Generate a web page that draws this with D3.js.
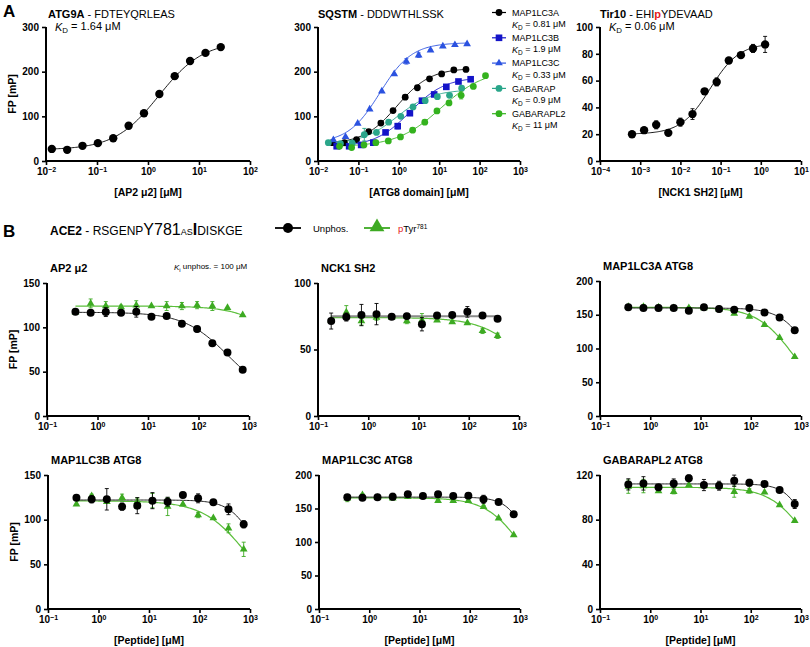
<!DOCTYPE html>
<html><head><meta charset="utf-8">
<script src="https://cdn.jsdelivr.net/npm/d3@7"></script>
<style>
body{margin:0;background:#fff}
svg text{font-family:"Liberation Sans",Arial,Helvetica,sans-serif}
</style>
</head><body>
<svg id="c" width="810" height="647"></svg>
<script>
// ---------------- DATA ----------------
// Panel A1: ATG9A peptide vs AP2 mu2
const a1Conc = [0.013, 0.026, 0.052, 0.104, 0.208, 0.417, 0.834, 1.67, 3.34, 6.68, 13.4, 26.7];
const a1FP   = [27, 25, 34, 40, 51, 79, 107, 150, 190, 224, 242, 255];
const a1Err  = [1, 1, 1, 1, 1, 6, 3, 2, 2, 2, 2, 2];
const a1Fit  = [25, 268, 1.64, 1];           // bottom, top, KD, hill

// Panel A2: SQSTM peptide vs ATG8 domains
const a2Names = ["MAP1LC3A", "MAP1LC3B", "MAP1LC3C", "GABARAP", "GABARAPL2"];
const a2KD    = ["0.81", "1.9", "0.33", "0.9", "11"];
const lc3aConc = [0.0225, 0.045, 0.09, 0.18, 0.36, 0.72, 1.44, 2.88, 5.75, 11.5, 23, 46];
const lc3aFP   = [41, 41, 48, 66, 85, 113, 143, 164, 184, 195, 204, 205];
const lc3aErr  = [1, 1, 1, 1, 1, 2, 2, 2, 2, 2, 2, 2];
const lc3aFit  = [38, 208, 0.9, 1.05];
const lc3bConc = [0.029, 0.059, 0.117, 0.234, 0.47, 0.94, 1.88, 3.75, 7.5, 15, 30, 60];
const lc3bFP   = [33, 33, 36, 41, 64, 78, 107, 135, 149, 166, 178, 183];
const lc3bErr  = [1, 1, 1, 1, 1, 6, 2, 2, 2, 2, 2, 2];
const lc3bFit  = [32, 188, 1.9, 1];
const lc3cConc = [0.024, 0.048, 0.096, 0.19, 0.38, 0.77, 1.54, 3.1, 6.1, 12.3, 24.5, 49];
const lc3cFP   = [47, 54, 84, 116, 156, 195, 223, 237, 248, 257, 260, 262];
const lc3cErr  = [1, 1, 1, 1, 1, 1, 6, 5, 2, 1, 1, 1];
const lc3cFit  = [40, 265, 0.34, 1.1];
const gabConc  = [0.018, 0.036, 0.07, 0.14, 0.28, 0.56, 1.12, 2.25, 4.5, 9, 18, 36];
const gabFP    = [41, 39, 40, 59, 64, 87, 100, 121, 135, 144, 147, 163];
const gabErr   = [1, 1, 1, 14, 1, 2, 2, 2, 2, 2, 2, 2];
const gabFit   = [38, 160, 0.9, 1];
const gabl2Conc = [0.034, 0.068, 0.137, 0.27, 0.55, 1.1, 2.2, 4.4, 8.8, 17.5, 35, 70, 140];
const gabl2FP   = [33, 30, 36, 41, 45, 54, 69, 87, 112, 130, 147, 167, 191];
const gabl2Err  = [1, 1, 1, 1, 1, 1, 1, 1, 2, 2, 8, 2, 1];
const gabl2Fit  = [32, 205, 11, 0.8];

// Panel A3: Tir10 peptide vs NCK1 SH2
const a3Conc = [0.000625, 0.00125, 0.0025, 0.005, 0.01, 0.02, 0.04, 0.08, 0.16, 0.32, 0.64, 1.28];
const a3FP   = [20, 23, 27, 21, 29, 35, 52, 59, 75, 79, 84, 87];
const a3Err  = [1, 1, 3, 2, 3, 4, 1, 3, 2, 1, 3, 6];
const a3Fit  = [20, 88, 0.055, 1.2];

// Panel B: ACE2 peptide competition (Unphos. vs pTyr781)
const bConc    = [0.366, 0.732, 1.46, 2.93, 5.86, 11.7, 23.4, 46.9, 93.8, 188, 375, 750];
const bConcNck = [0.183, 0.366, 0.732, 1.46, 2.93, 5.86, 11.7, 23.4, 46.9, 93.8, 188, 375];
const bTitles  = ["AP2 \u03bc2", "NCK1 SH2", "MAP1LC3A ATG8", "MAP1LC3B ATG8", "MAP1LC3C ATG8", "GABARAPL2 ATG8"];

const ap2Un   = [117.5, 116.4, 117.2, 116.4, 117.5, 112, 112.7, 104, 98, 82, 71.6, 52.2];
const ap2UnE  = [2, 2, 5, 2, 6, 2, 2, 3, 3, 2, 3, 1];
const ap2P    = [117, 127, 124, 123, 125, 124, 124, 124, 125, 124, 122, 114];
const ap2PE   = [1, 5, 5, 2, 5, 1, 5, 4, 4, 5, 1, 1];
const ap2UnFit = [20, 117, 380, 1];
const ap2PFit  = [20, 124, 6800, 1];

const nckUn   = [71.4, 74.4, 75.9, 76.6, 74.6, 75.1, 69, 75.6, 75.9, 78.3, 75.6, 73.2];
const nckUnE  = [6, 3, 8, 8, 1, 2, 5, 1, 1, 4, 1, 1];
const nckP    = [72, 78, 71.4, 74, 74, 71.4, 72, 72, 70.7, 70, 64, 60.3];
const nckPE   = [1, 5, 3, 2, 1, 2, 5, 1, 1, 1, 2, 2];
const nckUnFit = [75, 75, 1e6, 1];
const nckPFit  = [20, 74, 1190, 1];

const lc3aUn  = [161, 160, 160, 160, 156, 161, 158.4, 157.4, 160, 153.5, 146, 127];
const lc3aUnE = [2, 2, 4, 2, 2, 1, 4, 2, 2, 1, 4, 2];
const lc3aP   = [162, 162, 161, 160, 160, 160, 158, 152, 147.5, 135, 116, 87.6];
const lc3aPE  = [3, 3, 2, 2, 2, 1, 1, 1, 2, 2, 1, 1];
const lc3aUnFit = [20, 160, 1640, 1.5];
const lc3aPFit  = [20, 161, 703, 1.2];

const lc3bUn  = [124.6, 122.8, 122.8, 114.6, 115.7, 121.3, 120.1, 127.6, 123.9, 119.4, 111.6, 94.8];
const lc3bUnE = [1, 4, 12, 4, 9, 9, 5, 3, 5, 1, 6, 4];
const lc3bP   = [117.2, 126.5, 120.1, 124.6, 120.1, 121.3, 114.6, 117.2, 105.2, 101.9, 90.3, 66.8];
const lc3bPE  = [1, 2, 2, 4, 4, 8, 10, 1, 3, 1, 5, 8];
const lc3bUnFit = [20, 122, 1358, 1.7];
const lc3bPFit  = [0, 121, 900, 1];

const lc3cUn  = [166.7, 166.2, 166.7, 167.7, 171.1, 168.7, 171.1, 168.7, 169.2, 163.7, 159.7, 141.3];
const lc3cUnE = [3, 2, 1, 5, 2, 2, 4, 2, 4, 6, 1, 1];
const lc3cP   = [165.2, 170.1, 166.2, 165.2, 167.7, 167.7, 161.7, 161.7, 161.7, 152.7, 135.3, 110.4];
const lc3cPE  = [5, 2, 1, 2, 1, 1, 2, 2, 1, 2, 1, 1];
const lc3cUnFit = [20, 167, 1630, 2];
const lc3cPFit  = [20, 166, 1124, 1.2];

const gl2Un   = [111.6, 112.5, 109, 112.5, 117, 111, 110.4, 114.9, 113.1, 111.9, 106.6, 94];
const gl2UnE  = [5, 6, 1, 4, 3, 5, 4, 5, 3, 1, 1, 4];
const gl2P    = [109.6, 110.1, 105.7, 105.1, 111, 110.4, 110.1, 105.1, 105.7, 104.5, 93.1, 79.1];
const gl2PE   = [6, 6, 1, 2, 1, 1, 1, 5, 2, 1, 1, 1];
const gl2UnFit = [20, 112, 1520, 2];
const gl2PFit  = [20, 109, 1320, 1.2];

// ---------------- DRAWING ----------------
const svg = d3.select("#c");
const GREEN = "#3daa22", RED = "#e5201c";
const rise = f => x => f[0] + (f[1] - f[0]) / (1 + Math.pow(f[2] / x, f[3]));
const fall = f => x => f[0] + (f[1] - f[0]) / (1 + Math.pow(x / f[2], f[3]));

function sup10(sel) {
  sel.each(function(d) {
    const e = Math.round(Math.log10(d));
    const t = d3.select(this);
    t.text(null);
    t.append("tspan").text("10");
    t.append("tspan").attr("dy", "-0.45em").attr("font-size", "7px").text(e < 0 ? "\u2212" + (-e) : String(e));
  });
}

function drawPanel(p) {
  const x = d3.scaleLog().domain(p.xdom).range([p.left, p.right]);
  const y = d3.scaleLinear().domain([0, p.ymax]).range([p.bottom, p.top]);
  const g = svg.append("g");
  const e0 = Math.round(Math.log10(p.xdom[0])), e1 = Math.round(Math.log10(p.xdom[1]));
  const decs = d3.range(e0, e1 + 1).map(e => Math.pow(10, e));
  const gx = g.append("g").attr("transform", `translate(0,${p.bottom})`)
    .call(d3.axisBottom(x).tickValues(decs).tickSizeInner(4).tickSizeOuter(0).tickPadding(3));
  gx.selectAll(".tick text").call(sup10);
  const gy = g.append("g").attr("transform", `translate(${p.left},0)`)
    .call(d3.axisLeft(y).tickValues(p.yticks).tickSizeInner(4).tickSizeOuter(0).tickPadding(3).tickFormat(d3.format("d")));
  [gx, gy].forEach(a => {
    a.attr("font-family", null).attr("font-size", null);
    a.select(".domain").attr("stroke", "#000").attr("stroke-width", 2);
    a.selectAll(".tick line").attr("stroke", "#000").attr("stroke-width", 1.6);
    a.selectAll(".tick text").attr("fill", "#000").attr("font-size", "10px").attr("font-weight", "bold");
  });
  gx.select(".domain").attr("d", `M${p.left - 1},0H${p.right}`);
  gy.select(".domain").attr("d", `M0,${p.bottom + 1}V${p.top}`);
  if (p.xlabel) g.append("text").attr("x", (p.left + p.right) / 2).attr("y", p.bottom + 35)
    .attr("text-anchor", "middle").attr("font-size", "10.5px").attr("font-weight", "bold").text(p.xlabel);
  if (p.ylabel) g.append("text").attr("transform", `translate(${p.left - 30},${(p.top + p.bottom) / 2}) rotate(-90)`)
    .attr("text-anchor", "middle").attr("font-size", "10.5px").attr("font-weight", "bold").text(p.ylabel);

  p.series.forEach(s => {
    const c0 = s.conc[0], c1 = s.conc[s.conc.length - 1];
    const f = s.dir === "rise" ? rise(s.fit) : fall(s.fit);
    const xs = d3.range(0, 121).map(i => c0 * Math.pow(c1 / c0, i / 120));
    g.append("path").datum(xs).attr("fill", "none").attr("stroke", s.line || s.color)
      .attr("stroke-width", s.lw || 1).attr("d", d3.line().x(d => x(d)).y(d => y(f(d))));
  });
  p.series.forEach(s => {
    const pts = s.conc.map((c, i) => ({c, v: s.fp[i], e: s.err ? s.err[i] : 0}));
    const eb = g.append("g").attr("stroke", s.color).attr("stroke-width", 0.9);
    pts.filter(d => d.e > 1.5).forEach(d => {
      const xx = x(d.c);
      eb.append("line").attr("x1", xx).attr("x2", xx).attr("y1", y(d.v - d.e)).attr("y2", y(d.v + d.e));
      eb.append("line").attr("x1", xx - 2).attr("x2", xx + 2).attr("y1", y(d.v - d.e)).attr("y2", y(d.v - d.e));
      eb.append("line").attr("x1", xx - 2).attr("x2", xx + 2).attr("y1", y(d.v + d.e)).attr("y2", y(d.v + d.e));
    });
    g.append("g").selectAll("path").data(pts).join("path")
      .attr("transform", d => `translate(${x(d.c)},${y(d.v)})`)
      .attr("d", d3.symbol().type(s.shape).size(s.size)).attr("fill", s.color);
  });
  return {x, y};
}

function title(x, y, bold, rest, size) {
  const t = svg.append("text").attr("x", x).attr("y", y).attr("font-size", (size || 11) + "px");
  t.append("tspan").attr("font-weight", "bold").text(bold);
  if (rest) t.append("tspan").text(rest);
  return t;
}
function kd(x, y, val, size, sub) {
  const t = svg.append("text").attr("x", x).attr("y", y).attr("font-size", (size || 11) + "px");
  t.append("tspan").attr("font-style", "italic").text("K");
  t.append("tspan").attr("dy", "0.3em").attr("font-size", "0.72em").text(sub || "D");
  t.append("tspan").attr("dy", "-0.3em").text(val);
  return t;
}

// Panel letters
svg.append("text").attr("x", 3).attr("y", 17).attr("font-size", "17px").attr("font-weight", "bold").text("A");
svg.append("text").attr("x", 3).attr("y", 237).attr("font-size", "17px").attr("font-weight", "bold").text("B");

// ---- A1
drawPanel({left: 46, right: 250, top: 27, bottom: 161, xdom: [1e-2, 1e2], ymax: 300, yticks: [0, 100, 200, 300],
  xlabel: "[AP2 \u03bc2] [\u03bcM]", ylabel: "FP [mP]",
  series: [{conc: a1Conc, fp: a1FP, err: a1Err, fit: a1Fit, dir: "rise", color: "#000", shape: d3.symbolCircle, size: 55, lw: 0.9}]});
title(48, 18, "ATG9A", " - FDTEYQRLEAS");
kd(55, 31, " = 1.64 \u03bcM");

// ---- A2
const a2Series = [
  {conc: lc3aConc, fp: lc3aFP, err: lc3aErr, fit: lc3aFit, color: "#000", shape: d3.symbolCircle, size: 36},
  {conc: lc3bConc, fp: lc3bFP, err: lc3bErr, fit: lc3bFit, color: "#1414c8", shape: d3.symbolSquare, size: 44},
  {conc: lc3cConc, fp: lc3cFP, err: lc3cErr, fit: lc3cFit, color: "#2b52e0", shape: d3.symbolTriangle, size: 26},
  {conc: gabConc, fp: gabFP, err: gabErr, fit: gabFit, color: "#2aa68a", shape: d3.symbolCircle, size: 36},
  {conc: gabl2Conc, fp: gabl2FP, err: gabl2Err, fit: gabl2Fit, color: "#34b21e", shape: d3.symbolCircle, size: 36}
].map(s => Object.assign(s, {dir: "rise", lw: 0.9}));
drawPanel({left: 318, right: 520, top: 27, bottom: 161, xdom: [1e-2, 1e3], ymax: 300, yticks: [0, 100, 200, 300],
  xlabel: "[ATG8 domain] [\u03bcM]", series: a2Series});
title(318, 18, "SQSTM", " - DDDWTHLSSK");
a2Series.forEach((s, i) => {
  const yy = 12.5 + i * 25.3;
  svg.append("line").attr("x1", 492).attr("x2", 506).attr("y1", yy).attr("y2", yy).attr("stroke", s.color).attr("stroke-width", 1.2);
  svg.append("path").attr("transform", `translate(499,${yy})`).attr("d", d3.symbol().type(s.shape).size(s.size)).attr("fill", s.color);
  svg.append("text").attr("x", 512).attr("y", yy + 3.3).attr("font-size", "9px").text(a2Names[i]);
  kd(512, yy + 15.3, " = " + a2KD[i] + " \u03bcM", 9);
});

// ---- A3
drawPanel({left: 600, right: 801, top: 27, bottom: 161, xdom: [1e-4, 1e1], ymax: 100, yticks: [0, 20, 40, 60, 80, 100],
  xlabel: "[NCK1 SH2] [\u03bcM]",
  series: [{conc: a3Conc, fp: a3FP, err: a3Err, fit: a3Fit, dir: "rise", color: "#000", shape: d3.symbolCircle, size: 55, lw: 0.9}]});
{
  const t = svg.append("text").attr("x", 600).attr("y", 18).attr("font-size", "11px");
  t.append("tspan").attr("font-weight", "bold").text("Tir10");
  t.append("tspan").text(" - EHI");
  t.append("tspan").attr("fill", RED).attr("font-weight", "bold").text("p");
  t.append("tspan").text("YDEVAAD");
}
kd(609, 31, " = 0.06 \u03bcM");

// ---- B header
{
  const t = svg.append("text").attr("x", 50).attr("y", 235).attr("font-size", "12px");
  t.append("tspan").attr("font-weight", "bold").text("ACE2");
  t.append("tspan").text(" - RSGENP");
  t.append("tspan").attr("font-size", "16px").text("Y781");
  t.append("tspan").attr("font-size", "9px").text("AS");
  t.append("tspan").attr("font-size", "16px").attr("font-weight", "bold").text("I");
  t.append("tspan").text("DISKGE");
  // legend
  svg.append("line").attr("x1", 275).attr("x2", 301).attr("y1", 228).attr("y2", 228).attr("stroke", "#000").attr("stroke-width", 1.8);
  svg.append("circle").attr("cx", 288).attr("cy", 228).attr("r", 5).attr("fill", "#000");
  svg.append("text").attr("x", 313).attr("y", 231.5).attr("font-size", "9.5px").text("Unphos.");
  svg.append("line").attr("x1", 364).attr("x2", 390).attr("y1", 228).attr("y2", 228).attr("stroke", GREEN).attr("stroke-width", 1.8);
  svg.append("path").attr("transform", "translate(377,227)").attr("d", d3.symbol().type(d3.symbolTriangle).size(95)).attr("fill", GREEN);
  const l = svg.append("text").attr("x", 398).attr("y", 231.5).attr("font-size", "9.5px");
  l.append("tspan").attr("fill", RED).text("p");
  l.append("tspan").text("Tyr");
  l.append("tspan").attr("dy", "-0.45em").attr("font-size", "6.5px").text("781");
}

// ---- B panels
const bPanels = [
  {left: 47, right: 249, top: 283, bottom: 416, ymax: 150, yticks: [0, 50, 100, 150], ylabel: "FP [mP]",
   conc: bConc, un: ap2Un, unE: ap2UnE, unFit: ap2UnFit, p: ap2P, pE: ap2PE, pFit: ap2PFit},
  {left: 318, right: 519, top: 283, bottom: 416, ymax: 100, yticks: [0, 50, 100],
   conc: bConcNck, un: nckUn, unE: nckUnE, unFit: nckUnFit, p: nckP, pE: nckPE, pFit: nckPFit, unLine: "#8a8a8a", unLw: 2},
  {left: 600, right: 801, top: 281, bottom: 416, ymax: 200, yticks: [0, 50, 100, 150, 200],
   conc: bConc, un: lc3aUn, unE: lc3aUnE, unFit: lc3aUnFit, p: lc3aP, pE: lc3aPE, pFit: lc3aPFit},
  {left: 48, right: 250, top: 475, bottom: 609, ymax: 150, yticks: [0, 50, 100, 150], ylabel: "FP [mP]", xlabel: "[Peptide] [\u03bcM]",
   conc: bConc, un: lc3bUn, unE: lc3bUnE, unFit: lc3bUnFit, p: lc3bP, pE: lc3bPE, pFit: lc3bPFit},
  {left: 319, right: 520, top: 475, bottom: 609, ymax: 200, yticks: [0, 50, 100, 150, 200], xlabel: "[Peptide] [\u03bcM]",
   conc: bConc, un: lc3cUn, unE: lc3cUnE, unFit: lc3cUnFit, p: lc3cP, pE: lc3cPE, pFit: lc3cPFit},
  {left: 600, right: 801, top: 475, bottom: 609, ymax: 120, yticks: [0, 40, 80, 120], xlabel: "[Peptide] [\u03bcM]",
   conc: bConc, un: gl2Un, unE: gl2UnE, unFit: gl2UnFit, p: gl2P, pE: gl2PE, pFit: gl2PFit}
];
bPanels.forEach((b, i) => {
  drawPanel({left: b.left, right: b.right, top: b.top, bottom: b.bottom, xdom: [1e-1, 1e3], ymax: b.ymax, yticks: b.yticks,
    xlabel: b.xlabel, ylabel: b.ylabel,
    series: [
      {conc: b.conc, fp: b.p, err: b.pE, fit: b.pFit, dir: "fall", color: GREEN, line: "#5cbf3c", lw: 1.2, shape: d3.symbolTriangle, size: 26},
      {conc: b.conc, fp: b.un, err: b.unE, fit: b.unFit, dir: "fall", color: "#000", line: b.unLine || "#222", lw: b.unLw || 1, shape: d3.symbolCircle, size: 50}
    ]});
  svg.append("text").attr("x", b.left + 3).attr("y", b.top - 11).attr("font-size", "11px").attr("font-weight", "bold").text(bTitles[i]);
});
kd(174, 270, " unphos. = 100 \u03bcM", 8, "i");
</script>
</body></html>
